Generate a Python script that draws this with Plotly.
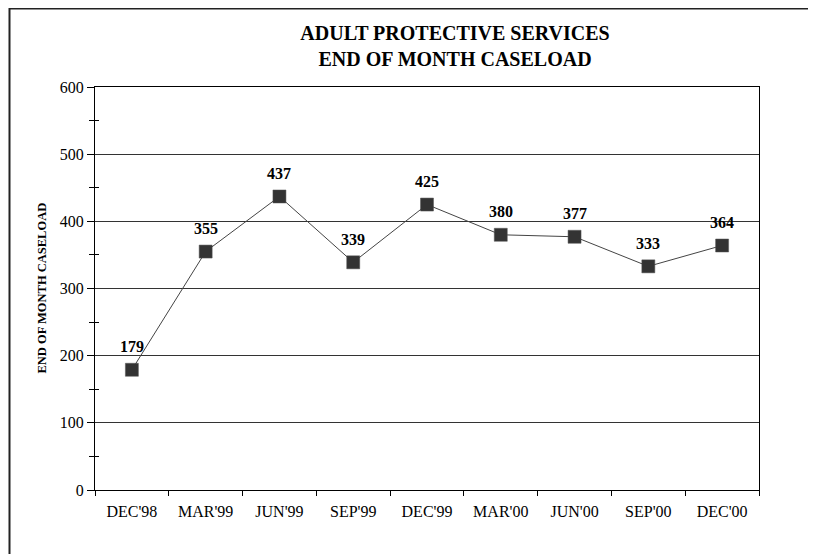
import plotly.graph_objects as go

categories = ["DEC'98", "MAR'99", "JUN'99", "SEP'99", "DEC'99", "MAR'00", "JUN'00", "SEP'00", "DEC'00"]
caseload = [179, 355, 437, 339, 425, 380, 377, 333, 364]
y_ticks = [0, 100, 200, 300, 400, 500, 600]
y_minor = [50, 150, 250, 350, 450, 550]

SERIF = "Liberation Serif, Times New Roman, serif"

# plot area in figure pixels (page is offset by the 8px body margin)
L, R, T, B = 87, 751, 79, 482
W, H = 816, 554
PW, PH = R - L, B - T

fig = go.Figure()
fig.add_trace(go.Scatter(
    x=categories, y=caseload, mode="lines+markers",
    line=dict(color="#444444", width=1),
    marker=dict(symbol="square", size=13, color="#333333",
                line=dict(color="#555555", width=0.5)),
    hoverinfo="x+y", showlegend=False,
))
# invisible trace on overlay axis used only for crossing minor ticks
fig.add_trace(go.Scatter(x=categories, y=caseload, yaxis="y2", mode="markers",
                         marker=dict(opacity=0), showlegend=False, hoverinfo="skip"))

for c, v in zip(categories, caseload):
    fig.add_annotation(x=c, y=v, text=str(v), showarrow=False, yshift=23,
                       font=dict(family=SERIF, size=16, color="black", weight="bold"))

fig.add_annotation(xref="paper", yref="paper", x=(33 - L) / PW, y=0.5,
                   text="END OF MONTH CASELOAD", textangle=-90, showarrow=False,
                   xanchor="center", yanchor="middle",
                   font=dict(family=SERIF, size=12.5, color="black", weight="bold"))

# outer frame (top and left edges visible)
fig.add_shape(type="rect", xref="paper", yref="paper",
              x0=(1.5 - L) / PW, x1=1.3, y0=-0.5, y1=(B - 0.5) / PH,
              line=dict(color="#222222", width=2), layer="below")

fig.update_layout(
    width=W, height=H,
    margin=dict(l=L, r=W - R, t=T, b=H - B),
    paper_bgcolor="white", plot_bgcolor="white",
    title=dict(text="ADULT PROTECTIVE SERVICES<br>END OF MONTH CASELOAD",
               x=447 / W, xanchor="center", y=1 - 32 / H, yanchor="middle",
               font=dict(family=SERIF, size=20, color="black", weight="bold")),
    xaxis=dict(
        type="category", tickson="boundaries", ticks="outside", ticklen=5,
        tickcolor="black", tickwidth=1, ticklabelstandoff=7,
        showline=True, linecolor="black", linewidth=1, mirror=True,
        showgrid=False, range=[-0.5, len(categories) - 0.5],
        tickfont=dict(family=SERIF, size=16, color="black"),
    ),
    yaxis=dict(
        range=[0, 600], tickvals=y_ticks, ticks="outside", ticklen=7,
        tickcolor="black", tickwidth=1,
        showline=True, linecolor="black", linewidth=1, mirror=True,
        showgrid=True, gridcolor="#333333", gridwidth=1, zeroline=False,
        minor=dict(tickvals=y_minor, ticks="outside", ticklen=5, tickcolor="black", showgrid=False),
        tickfont=dict(family=SERIF, size=16, color="black"),
    ),
    yaxis2=dict(
        range=[0, 600], overlaying="y", side="left", anchor="x",
        tickvals=y_minor, ticks="inside", ticklen=4, tickcolor="black",
        showticklabels=False, showgrid=False, showline=False, zeroline=False,
    ),
)

fig.write_html("out.html")
